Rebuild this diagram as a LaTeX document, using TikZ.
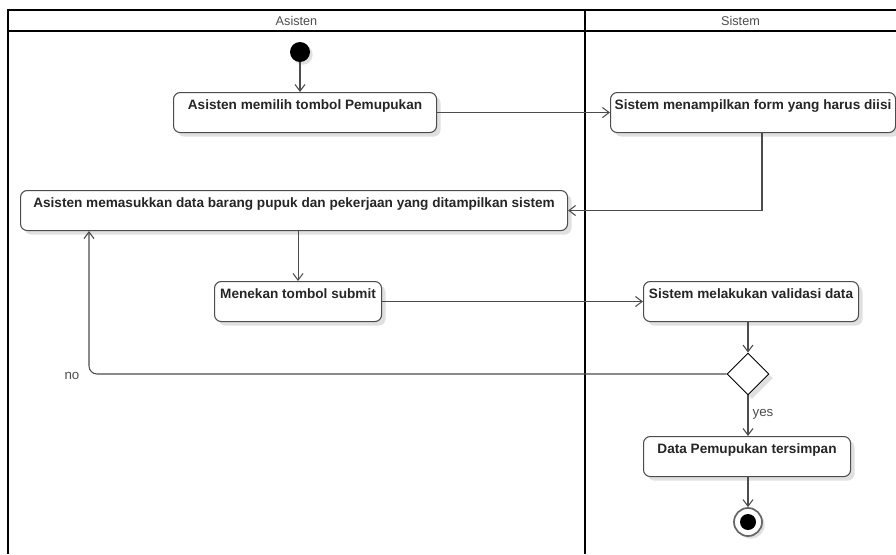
\documentclass[tikz,border=0pt]{standalone}
\usepackage{fontspec}
\setmainfont{Liberation Sans}
\usetikzlibrary{arrows.meta,shapes.geometric,shadows}
\tikzset{
  act/.style={draw=black!70, line width=0.8pt, rounded corners=5pt, fill=white,
    anchor=north west, inner xsep=1.5pt, inner ysep=2pt, text height=10.75pt, text depth=15.25pt,
    font=\bfseries\fontsize{10.2}{11}\selectfont, text=black!85,
    drop shadow={shadow xshift=3pt, shadow yshift=-3pt, opacity=0.12, fill=black}},
  flow/.style={draw=black!70, line width=0.8pt, -{Straight Barb[length=5pt,width=7.5pt]}},
  lane/.style={draw=black, line width=1.4pt},
  lbl/.style={font=\fontsize{10}{11}\selectfont, text=black!70, inner sep=0pt},
}
\begin{document}
\begin{tikzpicture}[x=0.75pt,y=-0.75pt]
\useasboundingbox (0,0) rectangle (896,554);
% swimlanes
\draw[lane] (8,554) -- (8,10) -- (896,10);
\draw[lane] (8,31) -- (896,31);
\draw[lane] (585,10) -- (585,554);
\node[lbl, font=\fontsize{9.5}{10}\selectfont] (hA) at (296.5,20.5) {Asisten};
\node[lbl, font=\fontsize{9.5}{10}\selectfont] (hS) at (740.5,20.5) {Sistem};
% nodes
\node[circle, fill=black, minimum size=15pt, inner sep=0pt,
  drop shadow={shadow xshift=2pt, shadow yshift=-2pt, opacity=0.12, fill=black}] (start) at (300,52) {};
\node[act, minimum width=263*0.75pt] (b1) at (173,92) {Asisten memilih tombol Pemupukan};
\node[act, minimum width=285*0.75pt] (b2) at (610,92) {Sistem menampilkan form yang harus diisi};
\node[act, minimum width=547*0.75pt] (b3) at (20,190) {Asisten memasukkan data barang pupuk dan pekerjaan yang ditampilkan sistem};
\node[act, minimum width=167*0.75pt] (b4) at (214,281) {Menekan tombol submit};
\node[act, minimum width=215*0.75pt] (b5) at (643,281) {Sistem melakukan validasi data};
\node[diamond, draw=black, line width=0.7pt, fill=white, aspect=1, minimum width=42*0.75pt, minimum height=42*0.75pt, inner sep=0pt,
  drop shadow={shadow xshift=3pt, shadow yshift=-3pt, opacity=0.12, fill=black}] (dia) at (748,374) {};
\node[act, minimum width=207*0.75pt] (b6) at (643,436) {Data Pemupukan tersimpan};
\node[circle, draw=black!60, line width=1.3pt, fill=white, minimum size=21pt, inner sep=0pt,
  drop shadow={shadow xshift=2pt, shadow yshift=-2pt, opacity=0.12, fill=black}] (end) at (748,522) {};
\node[circle, fill=black, minimum size=12pt, inner sep=0pt] (endin) at (end.center) {};
% helper coordinates
\coordinate (c2) at (762,0);
\coordinate (cno) at (89,0);
% connectors
\draw[flow] (start) -- (start |- b1.north);
\draw[flow] (b1.east) -- (b2.west);
\draw[flow] (b2.south -| c2) |- (b3.east);
\draw[flow] (b3.south -| b4.north) -- (b4.north);
\draw[flow] (b4.east) -- (b4.east -| b5.west);
\draw[flow] (b5.south -| dia.north) -- (dia.north);
\draw[flow, rounded corners=6pt] (dia.west) -| (b3.south -| cno);
\draw[flow] (dia.south) -- (dia.south |- b6.north);
\draw[flow] (b6.south -| end) -- (end.north);
% labels
\node[lbl] (no) at (72,376) {no};
\node[lbl] (yes) at (763,414) {yes};
\end{tikzpicture}
\end{document}
